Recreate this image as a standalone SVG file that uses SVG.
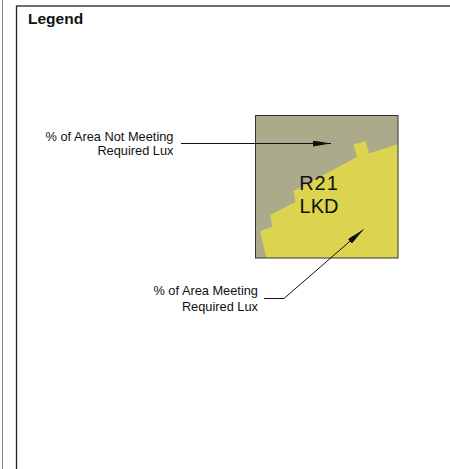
<svg xmlns="http://www.w3.org/2000/svg" width="450" height="469" viewBox="0 0 450 469">
<style>
.lbl{font-family:"Liberation Sans",Arial,sans-serif;font-size:12.8px;fill:#111;text-anchor:end}
.room{font-family:"Liberation Sans",Arial,sans-serif;font-size:20px;fill:#111;text-anchor:middle}
.ld{stroke:#111;stroke-width:1;fill:none}
</style>
<defs>
<marker id="ah" viewBox="0 0 18 6" refX="18" refY="3" markerWidth="18" markerHeight="6" markerUnits="userSpaceOnUse" orient="auto">
<path d="M0,0 L18,3 L0,6 Z" fill="#111"/>
</marker>
</defs>
<rect width="450" height="469" fill="#fff"/>
<g id="frame">
<line x1="2.5" y1="0" x2="2.5" y2="469" stroke="#888" stroke-width="1"/>
<rect x="16.5" y="6" width="460" height="480" fill="none" stroke="#222" stroke-width="1.3"/>
<text x="28" y="24" style="font-family:'Liberation Sans',Arial,sans-serif;font-weight:bold;font-size:15.5px;fill:#111">Legend</text>
</g>
<g id="room-R21">
<rect x="255.5" y="115.5" width="142.5" height="142.5" fill="#abab8b"/>
<polygon points="398,144 369,153.5 365.5,141 353.5,144.5 357,157 293.5,191 295.5,202 270,215 272.5,226.5 260,231.5 266.5,258 398,258" fill="#dcd44e"/>
<rect x="255.5" y="115.5" width="142.5" height="142.5" fill="none" stroke="#333" stroke-width="1"/>
<text class="room" x="319" y="190" letter-spacing="1">R21</text>
<text class="room" x="319" y="213">LKD</text>
</g>
<g id="label-not-meeting">
<text class="lbl" x="173.5" y="140.5">% of Area Not Meeting</text>
<text class="lbl" x="173.5" y="155">Required Lux</text>
</g>
<g id="label-meeting">
<text class="lbl" x="258" y="295">% of Area Meeting</text>
<text class="lbl" x="258" y="310.5">Required Lux</text>
</g>
<g id="connectors">
<path class="ld" d="M181,143.5 L331,143.5" marker-end="url(#ah)"/>
<path class="ld" d="M264,298.5 L284,298.5 L363.5,229.5" marker-end="url(#ah)"/>
</g>
</svg>
